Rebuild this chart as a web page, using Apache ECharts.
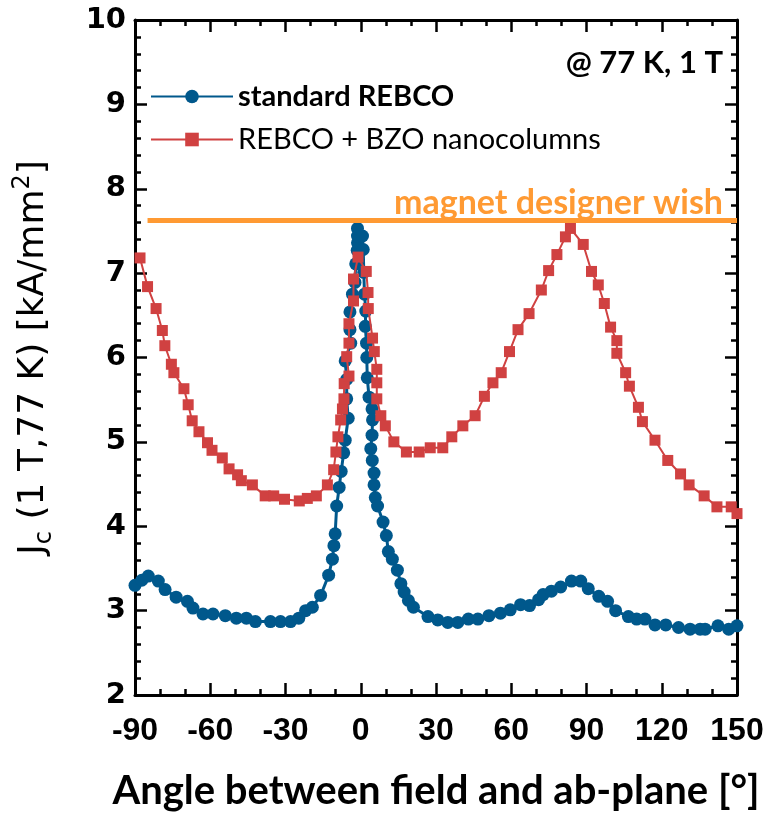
<!DOCTYPE html>
<html>
<head>
<meta charset="utf-8">
<script src="https://cdn.jsdelivr.net/npm/echarts@6/dist/echarts.min.js"></script>
<style>
  html, body { margin: 0; padding: 0; background: #ffffff; }
  #chart { width: 770px; height: 816px; }
</style>
</head>
<body>
<div id="chart"></div>
<script>
// Angular dependence of Jc at 77 K, 1 T
const xTicks = [-90, -60, -30, 0, 30, 60, 90, 120, 150];
const yTicks = [2, 3, 4, 5, 6, 7, 8, 9, 10];

// standard REBCO
const angleStd = [
  -90, -87.3, -84.7, -80.7, -78, -73.6, -69.1, -66.9, -62.9, -58.9,
  -54, -49.6, -45.6, -42, -36, -32, -28, -24.7, -22, -19.3,
  -16, -12.8, -11.3, -10.7, -10.2, -9.6, -8.6, -7.8, -6.8, -6.2,
  -5.0, -5.6, -5.6, -6.2, -4.0, -4.3, -4.3, -3.3, -2.3, -2.0,
  -1.4, -1.3, -1.3, -1.3, 0.7, 1.0, 1.2, 1.5, 2.0, 1.8,
  2.3, 2.4, 2.6, 3.3, 4.5, 4.7, 4.5, 4.0, 4.6, 5.3,
  5.3, 5.8, 6.7, 8.9, 10.2, 11.0, 12.6, 14.6, 16.0, 17.3,
  19.0, 21.0, 26.8, 30.7, 34.7, 38.7, 42.9, 46.7, 51.1, 55.7,
  59.6, 63.7, 67.3, 70.9, 72.7, 76, 79.7, 84, 87.7, 90.7,
  94.9, 98.4, 101.6, 106.7, 110, 113.3, 117.3, 121.6, 126.7, 131.3,
  135.3, 137.3, 142.4, 146.7, 150
];
const jcStd = [
  3.30, 3.36, 3.41, 3.35, 3.25, 3.16, 3.11, 3.03, 2.96, 2.96,
  2.94, 2.91, 2.91, 2.87, 2.87, 2.87, 2.87, 2.91, 3.00, 3.04,
  3.18, 3.42, 3.61, 3.77, 3.91, 4.24, 4.46, 4.65, 4.87, 5.02,
  5.28, 5.51, 5.74, 5.96, 6.17, 6.33, 6.54, 6.75, 6.89, 7.11,
  7.27, 7.36, 7.44, 7.53, 7.44, 7.28, 7.01, 6.75, 6.55, 6.37,
  6.17, 6.00, 5.76, 5.53, 5.39, 5.26, 5.08, 4.92, 4.78, 4.63,
  4.49, 4.34, 4.24, 4.05, 3.89, 3.70, 3.61, 3.48, 3.32, 3.22,
  3.12, 3.04, 2.93, 2.89, 2.86, 2.86, 2.90, 2.90, 2.94, 2.97,
  3.01, 3.07, 3.06, 3.13, 3.19, 3.23, 3.28, 3.35, 3.35, 3.26,
  3.17, 3.11, 3.00, 2.93, 2.90, 2.90, 2.83, 2.83, 2.80, 2.78,
  2.78, 2.78, 2.82, 2.78, 2.82
];

// REBCO + BZO nanocolumns
const angleBzo = [
  -88, -85, -81.6, -79.1, -78.1, -75.5, -74.5, -70.5, -68.8, -67.2,
  -64.5, -61.1, -59.3, -55.2, -52.5, -49.1, -47.6, -43.2, -38.1, -34.7,
  -30.4, -24.5, -21.3, -17.7, -13.3, -10.8, -9.9, -9.1, -8.0, -7.3,
  -6.7, -6.6, -4.7, -5.6, -4.7, -4.7, -2.9, -2.9, -1.1, 2.2,
  2.9, 3.0, 4.7, 5.4, 6.4, 6.4, 6.4, 8.0, 9.8, 13.2,
  18.2, 23.3, 27.7, 32.7, 36.3, 40.7, 45.6, 49.3, 52.7, 56.0,
  59.3, 62.7, 67.1, 72.0, 74.9, 78.2, 81.6, 83.6, 88.7, 92.0,
  94.7, 97.1, 99.6, 102.1, 102.1, 105.6, 107.1, 110.7, 112.3, 117.3,
  122.4, 127.5, 130.9, 136.9, 142.0, 147.7, 150
];
const jcBzo = [
  7.18, 6.84, 6.58, 6.32, 6.14, 5.92, 5.82, 5.63, 5.44, 5.25,
  5.12, 4.99, 4.90, 4.81, 4.68, 4.61, 4.54, 4.49, 4.36, 4.36,
  4.32, 4.30, 4.33, 4.36, 4.49, 4.67, 4.88, 5.06, 5.26, 5.39,
  5.51, 5.69, 5.78, 6.01, 6.17, 6.40, 6.67, 6.93, 7.19, 7.02,
  6.77, 6.58, 6.23, 6.07, 5.86, 5.70, 5.51, 5.31, 5.19, 5.00,
  4.88, 4.88, 4.93, 4.93, 5.06, 5.19, 5.31, 5.54, 5.70, 5.82,
  6.07, 6.33, 6.52, 6.80, 7.03, 7.22, 7.43, 7.53, 7.34, 7.02,
  6.86, 6.64, 6.36, 6.20, 6.05, 5.82, 5.66, 5.41, 5.24, 5.02,
  4.78, 4.62, 4.49, 4.36, 4.23, 4.23, 4.15
];

// target level requested for magnet design
const wishLevel = 7.63;
const wishFrom = -85;

const seriesNames = ['standard REBCO', 'REBCO + BZO nanocolumns'];

const BLUE = '#00588c';
const RED = '#d04141';
const ORANGE = '#ff9a33';

const zip = (xs, ys) => xs.map((x, i) => [x, ys[i]]);

const chart = echarts.init(document.getElementById('chart'), null, { renderer: 'canvas' });

const xBase = {
  type: 'value', min: xTicks[0], max: xTicks[xTicks.length - 1], interval: 30,
  axisLine: { show: true, onZero: false, lineStyle: { color: '#000', width: 3 } },
  axisTick: { show: true, inside: true, length: 12, lineStyle: { color: '#000', width: 2.5 } },
  minorTick: { show: true, splitNumber: 3, length: 6, lineStyle: { color: '#000', width: 2.5 } },
  splitLine: { show: false }
};
const yBase = {
  type: 'value', min: yTicks[0], max: yTicks[yTicks.length - 1], interval: 1,
  axisLine: { show: true, onZero: false, lineStyle: { color: '#000', width: 3 } },
  axisTick: { show: true, inside: true, length: 12, lineStyle: { color: '#000', width: 2.5 } },
  minorTick: { show: true, splitNumber: 5, length: 6, lineStyle: { color: '#000', width: 2.5 } },
  splitLine: { show: false }
};

const option = {
  backgroundColor: '#ffffff',
  animation: false,
  grid: { left: 135, right: 33, top: 20, bottom: 113, containLabel: false },
  legend: {
    orient: 'vertical',
    left: 150,
    top: 80,
    padding: 0,
    itemWidth: 82,
    itemHeight: 17,
    itemGap: 10,
    data: [
      { name: seriesNames[0], textStyle: { fontWeight: 'bold' } },
      { name: seriesNames[1], textStyle: { fontWeight: 'normal' } }
    ],
    textStyle: { fontFamily: 'Lato', fontSize: 29, color: '#000', lineHeight: 33 }
  },
  xAxis: [
    Object.assign({}, xBase, {
      position: 'bottom',
      name: 'Angle between field and ab-plane [°]',
      nameLocation: 'middle',
      nameGap: 76,
      nameTextStyle: { fontFamily: 'Lato', fontWeight: 'bold', fontSize: 40, color: '#000' },
      axisLabel: {
        show: true, margin: 20, color: '#000', fontFamily: 'Liberation Sans',
        fontWeight: 'bold', fontSize: 32
      }
    }),
    Object.assign({}, xBase, { position: 'top', axisLabel: { show: false } })
  ],
  yAxis: [
    Object.assign({}, yBase, {
      position: 'left',
      name: '{m|J}{s|c}{m| (1 T,77 K) [kA/mm}{p|2}{m|]}',
      nameLocation: 'middle',
      nameRotate: 90,
      nameGap: 78,
      nameTextStyle: {
        rich: {
          m: { fontFamily: 'DejaVu Sans', fontSize: 36, color: '#000', lineHeight: 46, verticalAlign: 'middle' },
          s: { fontFamily: 'DejaVu Sans', fontSize: 24, color: '#000', lineHeight: 46, verticalAlign: 'bottom', padding: [15, 0, 0, 0] },
          p: { fontFamily: 'DejaVu Sans', fontSize: 24, color: '#000', lineHeight: 46, verticalAlign: 'top', padding: [0, 0, 15, 0] }
        }
      },
      axisLabel: {
        show: true, margin: 9, color: '#000', fontFamily: 'DejaVu Sans',
        fontWeight: 'bold', fontSize: 29
      }
    }),
    Object.assign({}, yBase, { position: 'right', axisLabel: { show: false } })
  ],
  series: [
    {
      name: seriesNames[0],
      type: 'line',
      xAxisIndex: 0, yAxisIndex: 0,
      data: zip(angleStd, jcStd),
      symbol: 'circle',
      symbolSize: 13,
      lineStyle: { color: BLUE, width: 3 },
      itemStyle: { color: BLUE },
      z: 3
    },
    {
      name: seriesNames[1],
      type: 'line',
      xAxisIndex: 0, yAxisIndex: 0,
      data: zip(angleBzo, jcBzo),
      symbol: 'rect',
      symbolSize: 11,
      lineStyle: { color: RED, width: 2 },
      itemStyle: { color: RED },
      z: 4,
      markLine: {
        silent: true,
        symbol: ['none', 'none'],
        lineStyle: { color: ORANGE, width: 5, type: 'solid' },
        label: {
          show: true,
          position: 'insideEndTop',
          formatter: 'magnet designer wish',
          color: ORANGE,
          fontFamily: 'Lato',
          fontWeight: 'bold',
          fontSize: 34,
          distance: [14, 0]
        },
        data: [[{ coord: [wishFrom, wishLevel] }, { coord: [xTicks[xTicks.length - 1], wishLevel] }]]
      }
    }
  ],
  graphic: [
    {
      type: 'text',
      right: 47,
      top: 47,
      style: {
        text: '@ 77 K, 1 T',
        fontFamily: 'Lato',
        fontWeight: 'bold',
        fontSize: 31,
        fill: '#000'
      }
    }
  ]
};

chart.setOption(option);
</script>
</body>
</html>
